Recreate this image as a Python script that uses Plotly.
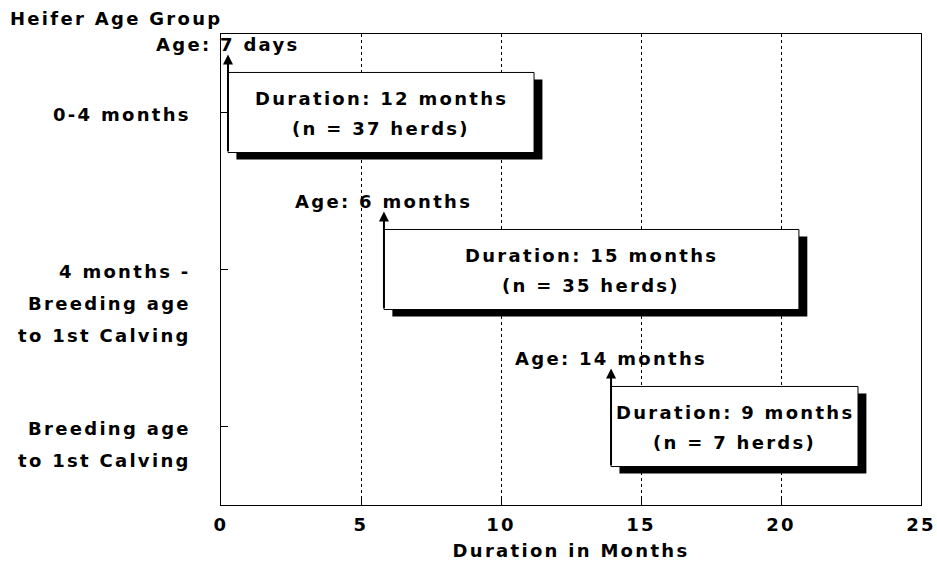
import plotly.graph_objects as go

# ---- data ----
group_labels = [
    ["0-4 months"],
    ["4 months -", "Breeding age", "to 1st Calving"],
    ["Breeding age", "to 1st Calving"],
]
start_months = [0.25, 5.82, 13.93]
end_months = [11.18, 20.64, 22.75]
age_labels = ["Age: 7 days", "Age: 6 months", "Age: 14 months"]
duration_labels = ["Duration: 12 months", "Duration: 15 months", "Duration: 9 months"]
herd_labels = ["(n = 37 herds)", "(n = 35 herds)", "(n = 7 herds)"]
x_ticks = [0, 5, 10, 15, 20, 25]
y_title = "Heifer Age Group"
x_title = "Duration in Months"

# ---- style ----
FONT = dict(family="DejaVu Sans", size=18, color="black", weight="bold")
LS = 2.3


def sp(t):
    return f'<span style="letter-spacing:{LS}px">{t}</span>'


ypos = list(range(len(start_months)))
durations = [e - s for s, e in zip(start_months, end_months)]
BAR_W = 0.51
DX, DY = 0.3, 0.045

fig = go.Figure()
# shadow (extrusion)
fig.add_trace(go.Bar(
    orientation="h", y=[y + DY for y in ypos], x=durations,
    base=[s + DX for s in start_months], width=BAR_W,
    marker=dict(color="black", line=dict(width=0)), hoverinfo="skip",
))
# main boxes
fig.add_trace(go.Bar(
    orientation="h", y=ypos, x=durations, base=start_months, width=BAR_W,
    marker=dict(color="white", line=dict(color="black", width=1)),
))

ann = []
for i, s in enumerate(start_months):
    e = end_months[i]
    # arrow
    ann.append(dict(x=s, y=i - 0.37, ax=s, ay=i + BAR_W / 2, xref="x", yref="y",
                    axref="x", ayref="y", text="", showarrow=True, arrowhead=2,
                    arrowsize=1, arrowwidth=2, arrowcolor="black", standoff=0,
                    startstandoff=0))
    ann.append(dict(x=s, y=i - 0.43, xref="x", yref="y", text=sp(age_labels[i]),
                    showarrow=False, xanchor="center", yanchor="middle", font=FONT))
    cx = (s + e) / 2
    ann.append(dict(x=cx, y=i - 0.09, xref="x", yref="y", text=sp(duration_labels[i]),
                    showarrow=False, xanchor="center", yanchor="middle", font=FONT))
    ann.append(dict(x=cx, y=i + 0.10, xref="x", yref="y", text=sp(herd_labels[i]),
                    showarrow=False, xanchor="center", yanchor="middle", font=FONT))
    for k, line in enumerate(group_labels[i]):
        ann.append(dict(x=0, y=i + 0.01 + 0.205 * k, xref="paper", yref="y",
                        text=sp(line), showarrow=False, xanchor="right",
                        yanchor="middle", xshift=-28, font=FONT))

ann.append(dict(x=-0.304, y=1.032, xref="paper", yref="paper", text=sp(y_title),
                showarrow=False, xanchor="left", yanchor="middle", font=FONT))

fig.update_layout(
    width=937, height=566,
    margin=dict(l=221, r=16, t=34, b=61, autoexpand=False),
    paper_bgcolor="white", plot_bgcolor="white",
    barmode="overlay", showlegend=False,
    font=FONT, annotations=ann,
)
fig.update_xaxes(
    range=[0, 25], tickvals=x_ticks, ticktext=[sp(str(t)) for t in x_ticks],
    ticks="inside", ticklen=9, tickcolor="black", tickwidth=1,
    showgrid=True, gridcolor="black", griddash="dot", gridwidth=1,
    showline=True, linecolor="black", linewidth=1, mirror=True, zeroline=False,
    ticklabelstandoff=3,
    title=dict(text=sp(x_title), font=FONT, standoff=10),
)
fig.update_yaxes(
    range=[2.5, -0.5], tickvals=ypos, showticklabels=False,
    ticks="inside", ticklen=7, tickcolor="black",
    showgrid=False, showline=True, linecolor="black", linewidth=1, mirror=True,
    zeroline=False,
)

fig.write_html(
    "out.html",
    config={"displayModeBar": False},
    post_script="document.body.style.margin='0';document.body.style.overflow='hidden';",
)
